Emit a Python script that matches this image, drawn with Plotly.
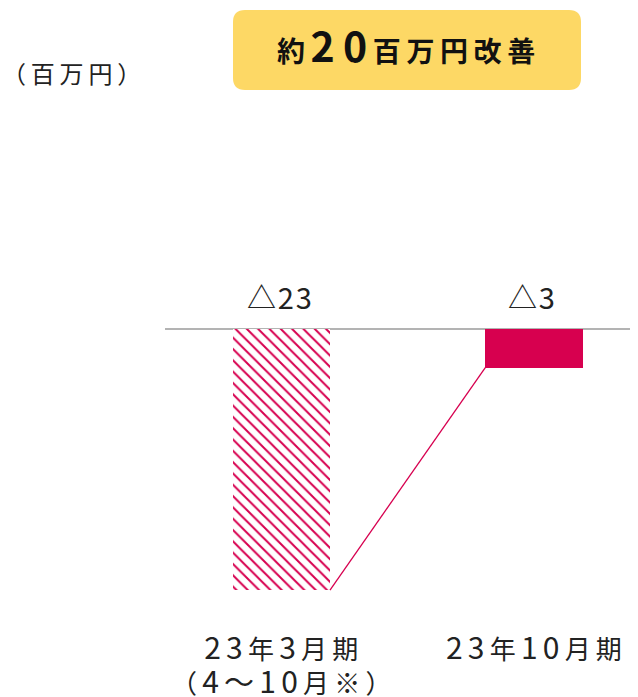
import plotly.graph_objects as go

# data
periods = [["23年3月期", "（4～10月※）"], ["23年10月期"]]
profit = [-23, -3.4]
value_labels = ["△23", "△3"]
unit_label = "（百万円）"

red = "#d7004f"
font_jp = "Noto Sans CJK JP"
bar_w = 0.385
xpos = [0, 1]
THIN = "\u2009"
HAIR = "\u200a"


def spaced(s, sep=THIN, digit_px=None):
    # imitate the wide letter spacing and the large digits of the original
    out = []
    for ch in s:
        if digit_px and (ch.isdigit() or ch == "～"):
            ch = f"<span style='font-size:{digit_px}px'>{ch}</span>"
        out.append(ch)
    return sep.join(out)


fig = go.Figure()

# hatched bar (partial period) and solid bar
fig.add_trace(go.Bar(
    x=[xpos[0]], y=[profit[0]], width=bar_w,
    marker=dict(color="white", line_width=0,
                pattern=dict(shape="\\", fgcolor=red, bgcolor="white", fgopacity=1,
                             size=8, solidity=0.25, fillmode="replace")),
))
fig.add_trace(go.Bar(
    x=[xpos[1]], y=[profit[1]], width=bar_w,
    marker=dict(color=red, line_width=0),
))

# connector line between the bar bottoms
fig.add_trace(go.Scatter(
    x=[xpos[0] + bar_w / 2, xpos[1] - bar_w / 2], y=profit,
    mode="lines", line=dict(color=red, width=1.3), hoverinfo="skip",
))

# value labels above the zero line
for x, lab in zip(xpos, value_labels):
    fig.add_annotation(x=x, y=0, text=spaced(lab, HAIR), showarrow=False,
                       yanchor="bottom", yshift=10, xshift=-2,
                       font=dict(size=29, color="#222", family=font_jp))

# page is drawn 8px in from the top-left (body margin)
OFF = 8
W, H = 638, 697
L, T = 165 - OFF, 329 - OFF - 229
PB = 600 - OFF  # plot bottom in figure px
B = H - PB


def px(x):
    return (x - OFF - L) / (W - L)


def py(y):
    return (PB - (y - OFF)) / (PB - T)


# category labels under the bars (one block per bar)
for x, lines in zip(xpos, periods):
    text = "<br>".join(spaced(line, THIN, 30) for line in lines)
    fig.add_annotation(x=x, xref="x", yref="paper", y=py(622),
                       yanchor="top", text=text, showarrow=False,
                       font=dict(size=26, color="#222", family=font_jp))

# headline box (rounded)
x0, x1, y0, y1, r = 233, 581, 10, 90, 12
path = (f"M {px(x0 + r)},{py(y0)} L {px(x1 - r)},{py(y0)} "
        f"Q {px(x1)},{py(y0)} {px(x1)},{py(y0 + r)} "
        f"L {px(x1)},{py(y1 - r)} Q {px(x1)},{py(y1)} {px(x1 - r)},{py(y1)} "
        f"L {px(x0 + r)},{py(y1)} Q {px(x0)},{py(y1)} {px(x0)},{py(y1 - r)} "
        f"L {px(x0)},{py(y0 + r)} Q {px(x0)},{py(y0)} {px(x0 + r)},{py(y0)} Z")
fig.add_shape(type="path", xref="paper", yref="paper", path=path,
              fillcolor="#fdd865", line_width=0, layer="below")

headline = ("<b>約" + THIN + "<span style='font-size:41px'>" + spaced("20") + "</span>"
            + THIN + spaced("百万円改善") + "</b>")
fig.add_annotation(xref="paper", yref="paper", x=px(406), y=py(44),
                   xanchor="center", yanchor="middle", text=headline, showarrow=False,
                   font=dict(size=28, color="#111", family=font_jp))
fig.add_annotation(xref="paper", yref="paper", x=px(0), y=py(73),
                   xanchor="left", yanchor="middle", text=spaced(unit_label, THIN),
                   showarrow=False, font=dict(size=24, color="#222", family=font_jp))

fig.update_layout(
    width=W, height=H,
    margin=dict(l=L, r=0, t=T, b=B),
    plot_bgcolor="white", paper_bgcolor="white",
    showlegend=False, bargap=0,
    font=dict(family=font_jp, color="#222"),
)

fig.update_xaxes(range=[-0.461, 1.444], showticklabels=False,
                 showgrid=False, zeroline=False, showline=False, ticks="")
fig.update_yaxes(range=[-23.88, 20.18], showticklabels=False,
                 showgrid=False, zeroline=True, zerolinecolor="#b3b3b3",
                 zerolinewidth=1.5, ticks="")

fig.write_html("out.html")
